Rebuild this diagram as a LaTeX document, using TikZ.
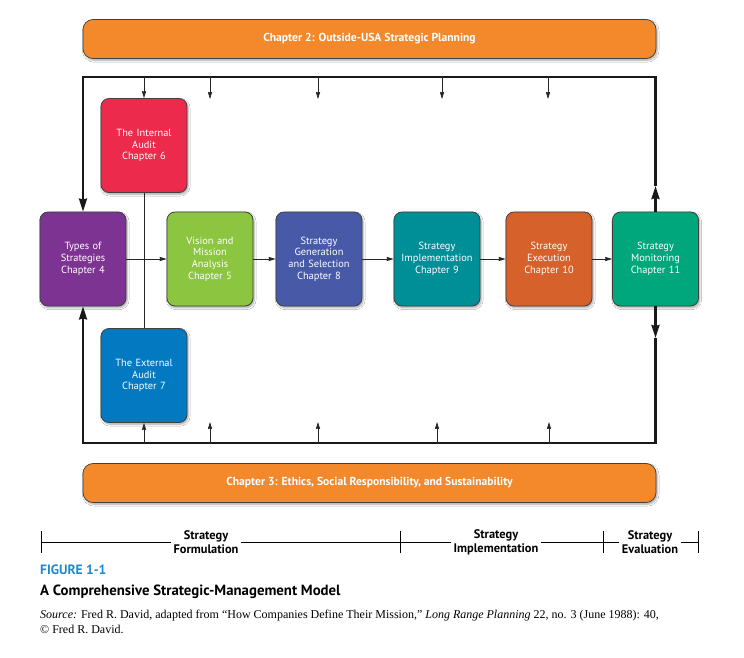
\documentclass[tikz,border=0pt]{standalone}
\usepackage{fontspec}
\setmainfont{Liberation Serif}
\newfontfamily\dsans{PT Sans}
\usetikzlibrary{arrows.meta,shadows.blur,calc}
\definecolor{barorange}{HTML}{F3892A}
\definecolor{cred}{HTML}{EC2A4B}
\definecolor{cpurple}{HTML}{7D3391}
\definecolor{cgreen}{HTML}{8CC53F}
\definecolor{cblue}{HTML}{4759A7}
\definecolor{cteal}{HTML}{008E97}
\definecolor{corange}{HTML}{D6612A}
\definecolor{cgteal}{HTML}{00A67C}
\definecolor{cext}{HTML}{0279C1}
\definecolor{figblue}{HTML}{1E8ACB}
\tikzset{
  shad/.style={blur shadow={shadow blur steps=6, shadow xshift=1.2pt, shadow yshift=-1.8pt, shadow opacity=35}},
  bar/.style={shad, minimum width=573pt, minimum height=39pt, rounded corners=10pt, fill=barorange, draw=black!75, line width=0.7pt, text=white, font=\dsans\bfseries\fontsize{11.6}{13}\selectfont},
  chbox/.style={shad, minimum width=86pt, minimum height=94pt, text width=82pt, inner sep=2pt, align=center, rounded corners=8pt, draw=black!75, line width=0.8pt, text=white, font=\dsans\fontsize{10.4}{11.7}\selectfont},
  frameline/.style={line width=2.3pt, black!90},
  bigarrow/.style={frameline, -{Stealth[length=13pt,width=8pt,inset=1pt]}},
  smallarrow/.style={line width=0.7pt, black!85, -{Stealth[length=7pt,width=4.2pt,inset=0.5pt]}},
  flowline/.style={line width=0.7pt, black!85},
  tl/.style={font=\dsans\bfseries\fontsize{12.4}{14}\selectfont, align=center, fill=white, inner xsep=3pt, inner ysep=0pt}
}
\begin{document}
\begin{tikzpicture}[x=1pt,y=-1pt]
\useasboundingbox (0,0) rectangle (744,658);
\fill[white] (0,0) rectangle (744,658);

% bars
\node[bar] (topbar) at (369.5,39) {Chapter 2: Outside-USA Strategic Planning};
\node[bar] (botbar) at (369.5,483) {Chapter 3: Ethics, Social Responsibility, and Sustainability};

% boxes
\node[chbox, fill=cred] (internal) at (144,145.5) {The Internal\\Audit\\Chapter 6};
\node[chbox, fill=cpurple] (types) at (83,259) {Types of\\Strategies\\Chapter 4};
\node[chbox, fill=cgreen] (vision) at (210,259) {Vision and\\Mission\\Analysis\\Chapter 5};
\node[chbox, fill=cblue] (gen) at (319,259) {Strategy\\Generation\\and Selection\\Chapter 8};
\node[chbox, fill=cteal] (impl) at (437,259) {Strategy\\Implementation\\Chapter 9};
\node[chbox, fill=corange] (exec) at (549,259) {Strategy\\Execution\\Chapter 10};
\node[chbox, fill=cgteal] (mon) at (655.5,259) {Strategy\\Monitoring\\Chapter 11};
\node[chbox, fill=cext] (external) at (144,375.5) {The External\\Audit\\Chapter 7};

% frame coordinates
\coordinate (TL) at (83,77);
\coordinate (TR) at (655.5,77);
\coordinate (BL) at (83,443);
\coordinate (BR) at (655.5,443);
\coordinate (monup) at (655.5,186);
\coordinate (mondn) at (655.5,338);

% frame
\draw[bigarrow] (monup) -- (TR) -- (TL) -- (types.north);
\draw[bigarrow] (mondn) -- (BR) -- (BL) -- (types.south);
\draw[bigarrow] (mon.north) -- (monup);
\draw[bigarrow] (mon.south) -- (mondn);

% small arrows top
\coordinate (t1) at (144,77);
\foreach \x/\n in {210/2,318/3,442/4,548/5}{
  \coordinate (t\n) at (\x,77);
  \coordinate (te\n) at (\x,99);
}
\draw[smallarrow] (t1) -- (internal.north);
\foreach \n in {2,3,4,5}{\draw[smallarrow] (t\n) -- (te\n);}

% small arrows bottom
\coordinate (b1) at (144,443);
\foreach \x/\n in {210/2,318/3,437/4,549/5}{
  \coordinate (b\n) at (\x,443);
  \coordinate (be\n) at (\x,422);
}
\draw[smallarrow] (b1) -- (external.south);
\foreach \n in {2,3,4,5}{\draw[smallarrow] (b\n) -- (be\n);}

% vertical audit line
\draw[flowline] (internal.south) -- (external.north);

% flow arrows
\draw[smallarrow] (types.east) -- (vision.west);
\draw[smallarrow] (vision.east) -- (gen.west);
\draw[smallarrow] (gen.east) -- (impl.west);
\draw[smallarrow] (impl.east) -- (exec.west);
\draw[smallarrow] (exec.east) -- (mon.west);

% timeline
\coordinate (L0) at (41,542);
\coordinate (L1) at (400,542);
\coordinate (L2) at (603,542);
\coordinate (L3) at (698,542);
\draw[line width=0.7pt] (L0) -- (L3);
\foreach \c in {L0,L1,L2,L3}{\draw[line width=0.7pt] ($(\c)+(0,-11)$) -- ($(\c)+(0,11)$);}
\node[tl] (form) at (206,542) {Strategy\\Formulation};
\node[tl] (implab) at (496,542) {Strategy\\Implementation};
\node[tl] (evallab) at (650,542) {Strategy\\Evaluation};

% caption
\node[anchor=west, inner sep=0pt, text=figblue, font=\dsans\bfseries\fontsize{13.5}{15}\selectfont] (fig) at (40,570) {FIGURE 1-1};
\node[anchor=west, inner sep=0pt, font=\dsans\bfseries\fontsize{14.8}{16}\selectfont] (title) at (40,592) {A Comprehensive Strategic-Management Model};
\node[anchor=north west, inner sep=0pt, align=left, font=\fontsize{12}{15}\selectfont] (src) at (40,610) {\textit{Source:} Fred R. David, adapted from “How Companies Define Their Mission,” \textit{Long Range Planning} 22, no. 3 (June 1988): 40,\\© Fred R. David.};
\end{tikzpicture}
\end{document}
